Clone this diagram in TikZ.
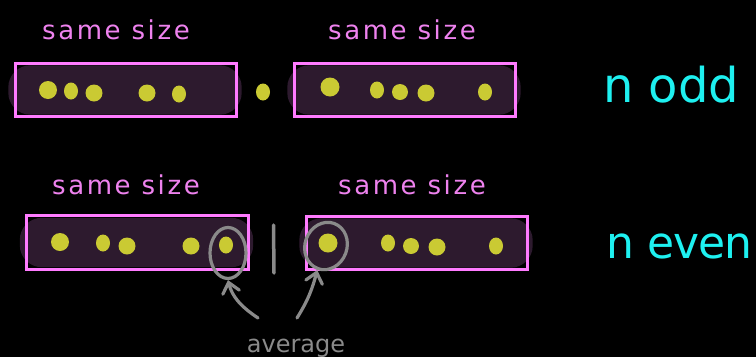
\documentclass[tikz,border=0pt]{standalone}
\usepackage{fontspec}
\setmainfont{DejaVu Sans}
\newfontfamily\labelfont[LetterSpace=10]{DejaVu Sans}
\newfontfamily\evenfont[LetterSpace=-2]{DejaVu Sans}
\usetikzlibrary{arrows.meta,shapes.geometric}

\definecolor{pillfill}{HTML}{2D1A2E}
\definecolor{framepink}{HTML}{FF7BFF}
\definecolor{labelpink}{HTML}{EE82EE}
\definecolor{dotyellow}{HTML}{CACA33}
\definecolor{markgray}{HTML}{8A8A8A}
\definecolor{casecyan}{HTML}{1EF0F0}

\tikzset{
  holder/.style={inner sep=0pt, minimum width=221pt, minimum height=53pt},
  pill/.style={fill=pillfill, rounded corners=22pt},
  frame/.style={draw=framepink, line width=3.2pt},
  dot/.style={ellipse, fill=dotyellow, inner sep=0pt, minimum width=#1pt, minimum height=#1pt},
  odot/.style={ellipse, fill=dotyellow, inner sep=0pt, minimum width=14pt, minimum height=17pt},
  sizelabel/.style={text=labelpink, font=\labelfont\fontsize{26}{26}\selectfont, anchor=base, inner sep=0pt},
  caselabel/.style={text=casecyan, font=\fontsize{48}{48}\selectfont, anchor=base west, inner sep=0pt},
  ring/.style={ellipse, draw=markgray, line width=3.2pt, inner sep=0pt},
  pointer/.style={draw=markgray, line width=3.2pt, line cap=round,
    -{Straight Barb[length=10pt,width=17pt,line cap=round]}},
}

\newcommand{\groupbox}[3]{%
  % #1 name, #2 x, #3 y of the centre
  \node[holder] (#1) at (#2,#3) {};
  \fill[pill] ([xshift=-7pt,yshift=-2pt]#1.north west) rectangle ([xshift=5pt,yshift=2pt]#1.south east);
  \draw[frame] (#1.north west) rectangle (#1.south east);
}

\begin{document}
\begin{tikzpicture}[x=1pt,y=-1pt]
\fill[black] (0,0) rectangle (756,357);
\useasboundingbox (0,0) rectangle (756,357);

% odd case
\groupbox{oddleft}{126}{90}
\groupbox{oddright}{405}{90}
\node[dot=18] (o1) at (48,90) {};
\node[odot] (o2) at (71,91) {};
\node[dot=17] (o3) at (94,93) {};
\node[dot=17] (o4) at (147,93) {};
\node[odot] (o5) at (179,94) {};
\node[ellipse, fill=dotyellow, inner sep=0pt, minimum width=14pt, minimum height=17pt] (omid) at (263,92) {};
\node[dot=19] (o6) at (330,87) {};
\node[odot] (o7) at (377,90) {};
\node[dot=16] (o8) at (400,92) {};
\node[dot=17] (o9) at (426,93) {};
\node[ellipse, fill=dotyellow, inner sep=0pt, minimum width=14pt, minimum height=17pt] (o10) at (485,92) {};

\node[sizelabel] (s1) at (116,39) {same size};
\node[sizelabel] (s2) at (402,39) {same size};
\node[caselabel] (odd) at (603,102) {n odd};

% even case
\groupbox{evenleft}{137.5}{242.5}
\groupbox{evenright}{417}{243}
\node[dot=18] (e1) at (60,242) {};
\node[odot] (e2) at (103,243) {};
\node[dot=17] (e3) at (127,246) {};
\node[dot=17] (e4) at (191,246) {};
\node[odot] (e5) at (226,245) {};
\node[dot=19] (e6) at (328,243) {};
\node[odot] (e7) at (388,243) {};
\node[dot=16] (e8) at (411,246) {};
\node[dot=17] (e9) at (437,247) {};
\node[odot] (e10) at (496,246) {};

\coordinate (splittop) at (273.5,225);
\coordinate (splitbot) at (274,273);
\draw[markgray, line width=3.5pt, line cap=round] (splittop) -- (splitbot);

\node[sizelabel] (s3) at (126,194) {same size};
\node[sizelabel] (s4) at (412,194) {same size};
\node[caselabel, font=\evenfont\fontsize{44}{44}\selectfont] (even) at (606,258) {n even};

% the two middle values
\node[ring, minimum width=36pt, minimum height=51pt] (ringl) at (228,253) {};
\node[ring, minimum width=42pt, minimum height=48pt, rotate=-20] (ringr) at (326,246) {};

\node[text=markgray, font=\fontsize{24}{24}\selectfont, anchor=base, inner sep=0pt] (avg) at (296,352) {average};
\coordinate (froml) at (258,318);
\coordinate (fromr) at (297,318);
\draw[pointer] (froml) .. controls (240,306) and (232,296) .. (ringl.south);
\draw[pointer] (fromr) .. controls (305,305) and (311,294) .. (ringr.south);
\end{tikzpicture}
\end{document}
